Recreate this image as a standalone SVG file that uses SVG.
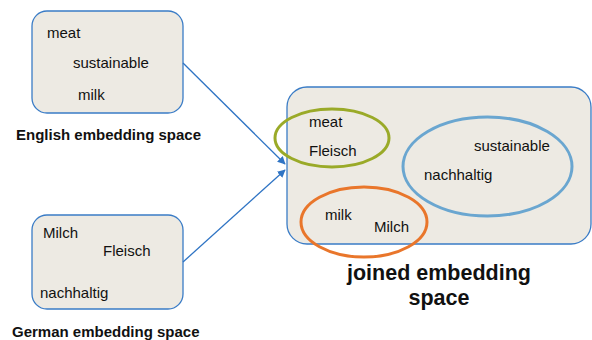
<svg xmlns="http://www.w3.org/2000/svg" width="592" height="340" viewBox="0 0 592 340">
<defs>
<style>
.box{fill:#edeae3;stroke:#3a7cc6;stroke-width:1.3}
.t{font-family:"Liberation Sans",Arial,sans-serif;font-size:15px;fill:#111}
.b{font-family:"Liberation Sans",Arial,sans-serif;font-size:15px;font-weight:bold;fill:#111}
.bb{font-family:"Liberation Sans",Arial,sans-serif;font-size:21.5px;font-weight:bold;fill:#111;text-anchor:middle}
.ell{fill:none;stroke-width:3}
.conn{stroke:#2f74c4;stroke-width:1.3;fill:none;marker-end:url(#ah)}
</style>
<marker id="ah" viewBox="0 0 10 10" refX="9" refY="5" markerWidth="8" markerHeight="8" markerUnits="userSpaceOnUse" orient="auto">
<path d="M0,0 L10,5 L0,10 z" fill="#2f74c4"/>
</marker>
</defs>
<rect width="592" height="340" fill="#fff"/>
<g id="english">
<rect class="box" x="32" y="11" width="151" height="102" rx="15"/>
<text class="t" x="47" y="38">meat</text>
<text class="t" x="73" y="68">sustainable</text>
<text class="t" x="78" y="100">milk</text>
<text class="b" x="16" y="140">English embedding space</text>
</g>
<g id="german">
<rect class="box" x="32" y="215" width="151" height="94" rx="15"/>
<text class="t" x="43" y="238">Milch</text>
<text class="t" x="103" y="256">Fleisch</text>
<text class="t" x="40" y="298">nachhaltig</text>
<text class="b" x="12" y="337">German embedding space</text>
</g>
<g id="joined">
<rect class="box" x="287" y="87" width="304" height="157" rx="20"/>
<ellipse class="ell" cx="332" cy="138" rx="57" ry="29" stroke="#9aaa28"/>
<ellipse class="ell" cx="487.5" cy="166.5" rx="84.5" ry="49.5" stroke="#6aa6d0"/>
<ellipse class="ell" cx="364" cy="222" rx="63" ry="35" stroke="#e9762b"/>
<text class="t" x="309" y="127">meat</text>
<text class="t" x="309" y="156">Fleisch</text>
<text class="t" x="474" y="151">sustainable</text>
<text class="t" x="424" y="180">nachhaltig</text>
<text class="t" x="325" y="220">milk</text>
<text class="t" x="374" y="232">Milch</text>
<text class="bb" x="439" y="280">joined embedding</text>
<text class="bb" x="439" y="305">space</text>
</g>
<g id="connectors">
<path class="conn" d="M183,63 L285,164"/>
<path class="conn" d="M183,262 L285,170"/>
</g>
</svg>
